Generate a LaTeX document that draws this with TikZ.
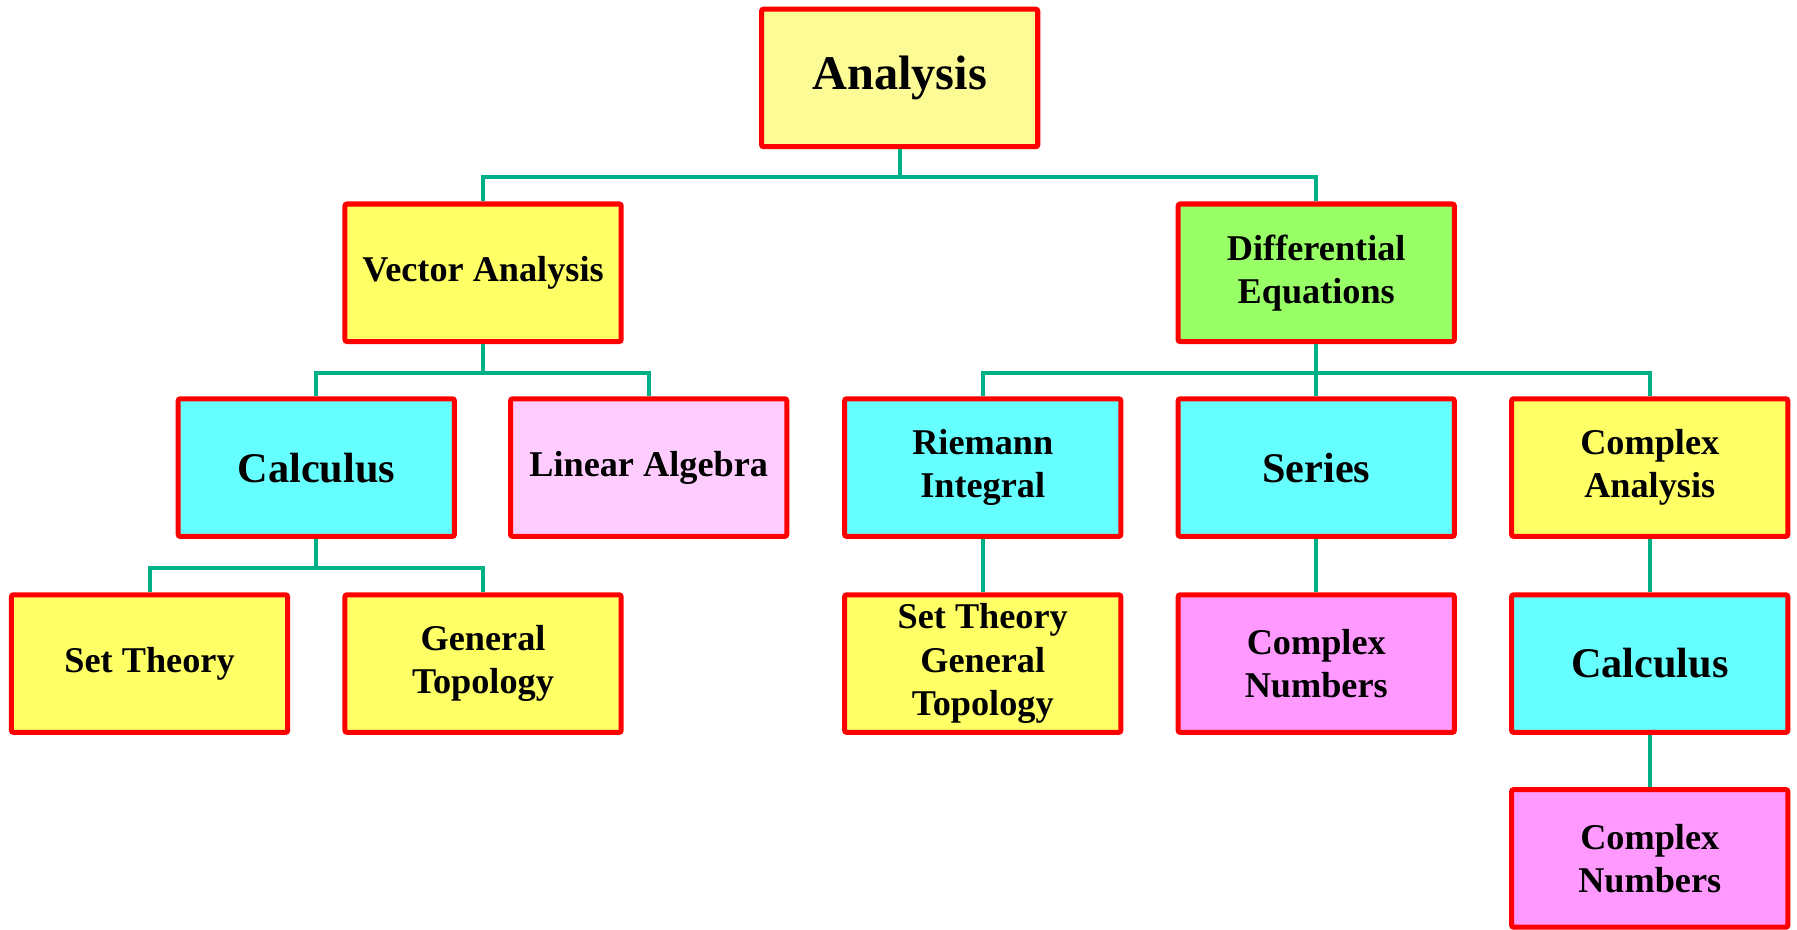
\documentclass[tikz,border=0pt]{standalone}
\usepackage{fontspec}
\setmainfont{Liberation Serif}
\usepackage{tikz}
\usetikzlibrary{calc,positioning}
\definecolor{boxred}{RGB}{255,0,0}
\definecolor{linkgreen}{RGB}{0,176,134}
\definecolor{paleyellow}{RGB}{253,251,150}
\definecolor{lemon}{RGB}{255,255,102}
\definecolor{lime}{RGB}{153,255,102}
\definecolor{aqua}{RGB}{102,255,255}
\definecolor{lilac}{RGB}{255,204,255}
\definecolor{orchid}{RGB}{255,153,255}
\tikzset{link/.style={draw=linkgreen,line width=2pt}}

\begin{document}
\begin{tikzpicture}[x=0.2mm,y=-0.2mm]

\tikzset{topic/.style={draw=boxred,line width=2.5pt,rounded corners=1pt,minimum width=4.82cm,minimum height=2.4cm,inner sep=0pt,align=center,font=\bfseries\fontsize{18}{21.5}\selectfont},
bigtopic/.style={topic,font=\bfseries\fontsize{21}{25}\selectfont},
yellownode/.style={topic,fill=lemon},
greennode/.style={topic,fill=lime},
cyannode/.style={bigtopic,fill=aqua},
pinknode/.style={topic,fill=lilac},
magentanode/.style={topic,fill=orchid}}

\useasboundingbox (0,0) rectangle (1568,811);

% Root
\node[bigtopic,fill=paleyellow,font=\bfseries\fontsize{24}{28}\selectfont] (ana) at (785,68) {Analysis};

% Second row
\node[yellownode] (va) at (421.5,238) {Vector Analysis};
\node[greennode] (de) at (1148.5,238) {Differential\\Equations};

% Third row
\node[cyannode] (calc) at (276,408) {Calculus};
\node[pinknode] (la) at (566,408) {Linear Algebra};
\node[cyannode,font=\bfseries\fontsize{18}{21.5}\selectfont] (ri) at (857.5,408) {Riemann\\Integral};
\node[cyannode] (ser) at (1148.5,408) {Series};
\node[yellownode] (ca) at (1439.5,408) {Complex\\Analysis};

% Fourth row
\node[yellownode] (st) at (130.5,579) {Set Theory};
\node[yellownode] (gt) at (421.5,579) {General\\Topology};
\node[yellownode] (stgt) at (857.5,579) {Set Theory\\General\\Topology};
\node[magentanode] (cn) at (1148.5,579) {Complex\\Numbers};
\node[cyannode] (calctwo) at (1439.5,579) {Calculus};

% Last row
\node[magentanode] (cntwo) at (1439.5,749) {Complex\\Numbers};

% Tree edges
\draw[link] (ana.south) -- ++(0,24) -| (va.north);
\draw[link] (ana.south) -- ++(0,24) -| (de.north);
\draw[link] (va.south) -- ++(0,25) -| (calc.north);
\draw[link] (va.south) -- ++(0,25) -| (la.north);
\draw[link] (de.south) -- ++(0,25) -| (ri.north);
\draw[link] (de.south) -- ++(0,25) -| (ser.north);
\draw[link] (de.south) -- ++(0,25) -| (ca.north);
\draw[link] (calc.south) -- ++(0,25) -| (st.north);
\draw[link] (calc.south) -- ++(0,25) -| (gt.north);
\draw[link] (ri) -- (stgt);
\draw[link] (ser) -- (cn);
\draw[link] (ca) -- (calctwo);
\draw[link] (calctwo) -- (cntwo);

\end{tikzpicture}
\end{document}
